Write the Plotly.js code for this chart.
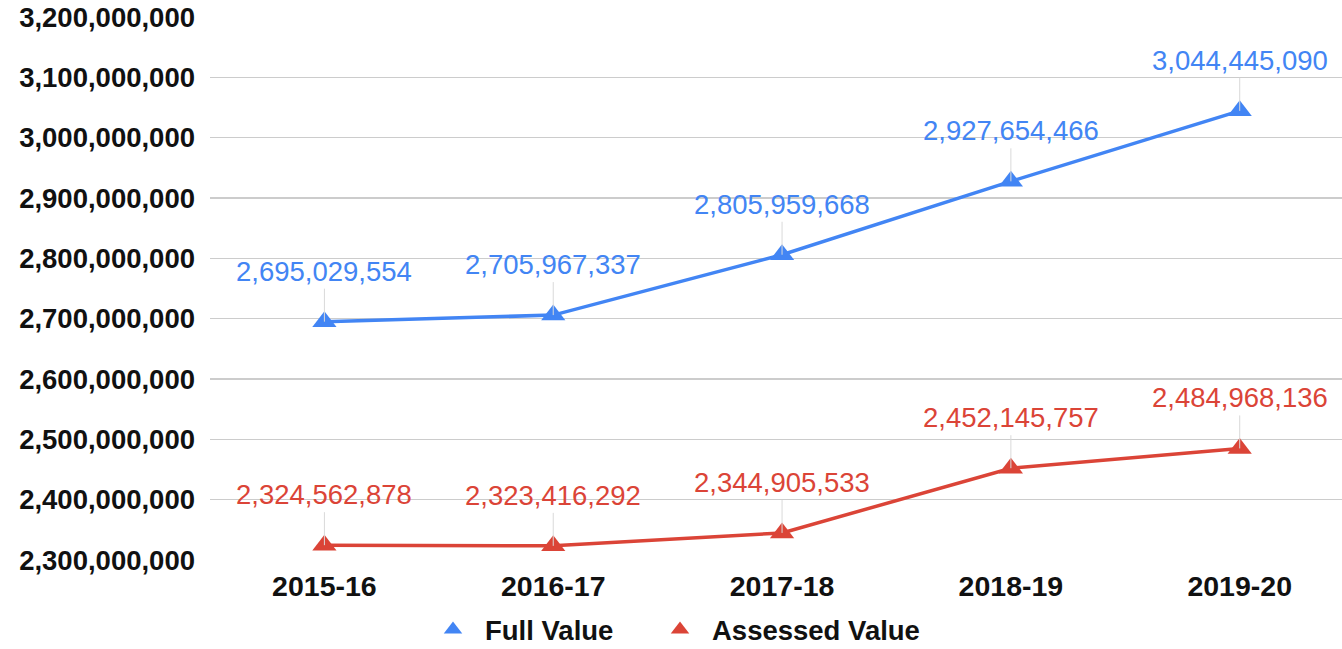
<!DOCTYPE html>
<html><head><meta charset="utf-8">
<script src="https://cdn.plot.ly/plotly-3.0.1.min.js"></script>
<style>html,body{margin:0;padding:0;background:#fff}#chart{width:1342px;height:649px}</style>
</head><body><div id="chart"></div>
<script>
const years = ["2015-16","2016-17","2017-18","2018-19","2019-20"];
const fullValue = [2695029554, 2705967337, 2805959668, 2927654466, 3044445090];
const assessedValue = [2324562878, 2323416292, 2344905533, 2452145757, 2484968136];
const yTicks = [2300000000,2400000000,2500000000,2600000000,2700000000,2800000000,2900000000,3000000000,3100000000,3200000000];

const BLUE = "#4285F4", RED = "#DB4437";
const FONT = "Liberation Sans, Arial, sans-serif";
const fmt = v => v.toLocaleString("en-US");

function lineTrace(name, vals, color){
  return {x: years, y: vals, name: name, type: "scatter", mode: "lines",
    line: {color: color, width: 3.5}, showlegend: false, cliponaxis: false, hoverinfo: "skip"};
}
function markerTrace(name, vals, color, legendId){
  return {x: years, y: vals, name: name, type: "scatter", mode: "markers",
    marker: {symbol: "triangle-up", size: 21, color: color}, legend: legendId,
    showlegend: true, cliponaxis: false, hoverinfo: "skip"};
}
function labels(vals, color){
  return vals.map((v,i) => ({x: years[i], y: v, text: fmt(v), showarrow: true,
    arrowhead: 0, arrowwidth: 1, arrowcolor: "#d9d9d9", ax: 0, ay: -33,
    yanchor: "bottom", font: {family: FONT, size: 27.5, color: color}}));
}
function legendBox(x){
  return {orientation: "h", xref: "container", yref: "container", x: x, xanchor: "left",
    y: 0.03, yanchor: "middle", font: {size: 27.5, weight: "bold", color: "#111"}, itemwidth: 54};
}

const data = [
  lineTrace("Full Value", fullValue, BLUE), lineTrace("Assessed Value", assessedValue, RED),
  markerTrace("Full Value", fullValue, BLUE, "legend"), markerTrace("Assessed Value", assessedValue, RED, "legend2")
];
const layout = {
  width: 1342, height: 649,
  margin: {l: 210, r: 0, t: 17, b: 89, autoexpand: false},
  paper_bgcolor: "#fff", plot_bgcolor: "#fff",
  font: {family: FONT, color: "#111"},
  xaxis: {type: "category", range: [-0.5, 4.447], showgrid: false, zeroline: false, showline: false,
    ticks: "", ticklabelstandoff: 6, tickangle: 0, automargin: false,
    tickfont: {size: 28.5, weight: "bold", color: "#111"}},
  yaxis: {range: [2300000000, 3200000000], tickvals: yTicks, tickformat: ",d", automargin: false,
    showgrid: true, gridcolor: "#cccccc", gridwidth: 1.5, zeroline: false, showline: false,
    ticks: "", ticklabelstandoff: 14, tickfont: {size: 27.5, weight: "bold", color: "#111"}},
  legend: legendBox(421/1342),
  legend2: legendBox(648/1342),
  annotations: labels(fullValue, BLUE).concat(labels(assessedValue, RED)),
  showlegend: true
};
Plotly.newPlot("chart", data, layout, {displayModeBar: false, staticPlot: true});
</script></body></html>
